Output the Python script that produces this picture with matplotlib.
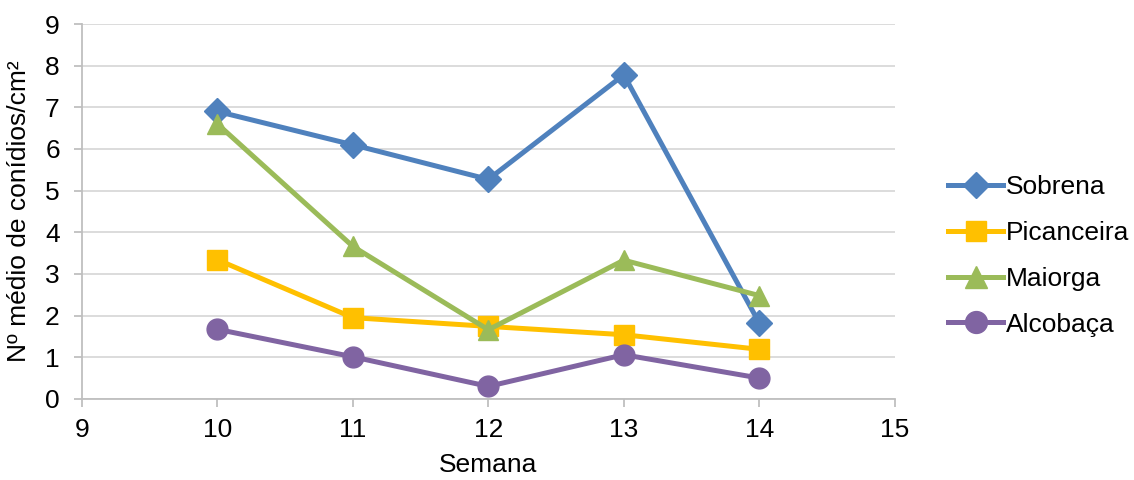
import matplotlib.pyplot as plt

plt.rcParams['font.family'] = ['Liberation Sans', 'DejaVu Sans']

semanas = [10, 11, 12, 13, 14]
sobrena = [6.9, 6.1, 5.27, 7.78, 1.82]
picanceira = [3.34, 1.95, 1.74, 1.54, 1.19]
maiorga = [6.6, 3.66, 1.66, 3.33, 2.48]
alcobaca = [1.67, 1.01, 0.3, 1.06, 0.5]

series = [
    ("Sobrena", sobrena, "#4F81BD", "D", 13),
    ("Picanceira", picanceira, "#FFC000", "s", 14),
    ("Maiorga", maiorga, "#9BBB59", "^", 15),
    ("Alcobaça", alcobaca, "#8064A2", "o", 15),
]

fs = 19
fig = plt.figure(figsize=(11.34, 4.8), dpi=100)
ax = fig.add_axes([0.0723, 0.169, 0.7167, 0.781])

for name, vals, col, mk, ms in series:
    ax.plot(semanas, vals, color=col, lw=3.6, marker=mk, markersize=ms,
            label=name, solid_joinstyle='round')

ax.set_xlim(9, 15)
ax.set_ylim(0, 9)
ax.set_xticks(range(9, 16))
ax.set_yticks(range(0, 10))
ax.grid(axis='y', color='#D9D9D9', lw=1.3)
ax.set_axisbelow(True)
for s in ['top', 'right']:
    ax.spines[s].set_visible(False)
for s in ['left', 'bottom']:
    ax.spines[s].set_color('#BFBFBF')
    ax.spines[s].set_linewidth(1.3)
ax.tick_params(colors='#BFBFBF', labelcolor='black', labelsize=fs, length=6, width=1.3)
ax.tick_params(axis='x', pad=8)
ax.tick_params(axis='y', pad=10)

ax.set_xlabel('Semana', fontsize=fs, labelpad=8)
ax.set_ylabel('Nº médio de conídios/cm²', fontsize=fs, labelpad=10)

fig.legend(loc='center left', bbox_to_anchor=(0.836, 0.467), frameon=False,
           fontsize=fs, handlelength=2.1, labelspacing=0.83, handletextpad=0.1,
           borderpad=0, borderaxespad=0, markerscale=1.05)

plt.savefig("out.png")
